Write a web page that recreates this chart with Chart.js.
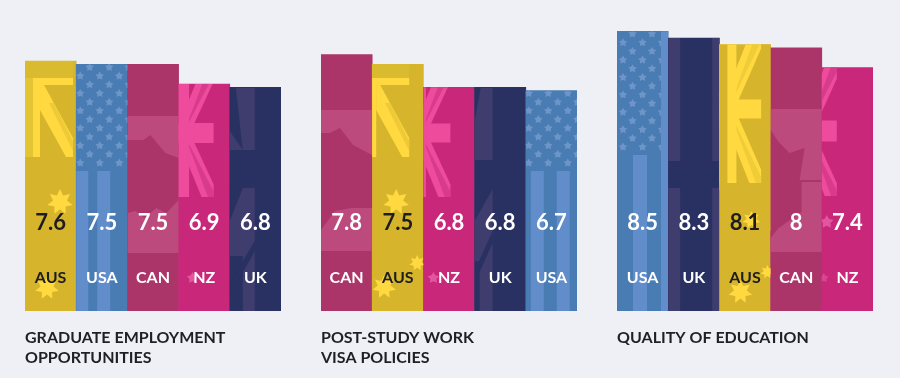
<!DOCTYPE html>
<html>
<head>
<meta charset="utf-8">
<script src="https://cdn.jsdelivr.net/npm/chart.js@4"></script>
<style>
  html, body { margin: 0; background: #eef0f5; }
  canvas { position: absolute; top: 15px; }
</style>
</head>
<body>
<canvas id="c1" width="256" height="363" style="left:25px"></canvas>
<canvas id="c2" width="256" height="363" style="left:321px"></canvas>
<canvas id="c3" width="256" height="363" style="left:617px"></canvas>
<script>
const categories1 = ["AUS", "USA", "CAN", "NZ", "UK"];
const values1 = [7.6, 7.5, 7.5, 6.9, 6.8];
const caption1 = ["GRADUATE EMPLOYMENT", "OPPORTUNITIES"];

const categories2 = ["CAN", "AUS", "NZ", "UK", "USA"];
const values2 = [7.8, 7.5, 6.8, 6.8, 6.7];
const caption2 = ["POST-STUDY WORK", "VISA POLICIES"];

const categories3 = ["USA", "UK", "AUS", "CAN", "NZ"];
const values3 = [8.5, 8.3, 8.1, 8, 7.4];
const caption3 = ["QUALITY OF EDUCATION"];

const baseColors = { AUS: "#d6b52d", USA: "#4a7cb4", CAN: "#ab3569", NZ: "#c9287a", UK: "#283161" };
const textColors = { AUS: "#1d1d1f", USA: "#fff", CAN: "#fff", NZ: "#fff", UK: "#fff" };

// little drawing helpers for the flag textures, local coords: x from bar left, y up from baseline is negative
function box(g, x, y, w, h, color) {
    g.fillStyle = color;
    g.fillRect(x, y, w, h);
}
function poly(g, pts, color) {
    g.fillStyle = color;
    g.beginPath();
    pts.forEach((p, i) => i ? g.lineTo(p[0], p[1]) : g.moveTo(p[0], p[1]));
    g.closePath();
    g.fill();
}
function star(g, cx, cy, r, color, n = 7) {
    g.fillStyle = color;
    g.beginPath();
    for (let i = 0; i < n * 2; i++) {
        const rad = i % 2 ? r * 0.55 : r;
        const a = -Math.PI / 2 + (i * Math.PI) / n;
        g.lineTo(cx + rad * Math.cos(a), cy + rad * Math.sin(a));
    }
    g.closePath();
    g.fill();
}
function jack(g, cx, cy, hw, hh, light, mid, armH, armV) {
    const t = 8;
    [[1, 1], [1, -1], [-1, 1], [-1, -1]].forEach(([sx, sy]) => {
        poly(g, [[cx, cy], [cx + sx * t * 1.4, cy], [cx + sx * hw, cy + sy * (hh - t * 1.6)], [cx + sx * hw, cy + sy * hh], [cx + sx * (hw - t * 1.5), cy + sy * hh], [cx, cy + sy * t]], light);
        poly(g, [[cx + sx * t * 0.8, cy + sy * t * 0.4], [cx + sx * hw, cy + sy * (hh - t * 0.7)], [cx + sx * hw, cy + sy * hh], [cx + sx * (hw - t * 0.7), cy + sy * hh]], mid);
    });
    box(g, cx - hw, cy - armH / 2, hw * 2, armH, light);
    box(g, cx - armV / 2, cy - hh, armV, hh * 2, light);
}
// corner of the aussie flag, dx slides it sideways inside the bar
function ausCorner(g, dx) {
    box(g, -20, -250, 68 + dx, 17, "#dabb2f");
    box(g, dx, -233, 8, 79, "#e3c433");
    box(g, dx + 8, -233, 40, 7, "#ffd93f");
    box(g, dx + 8, -226, 7, 72, "#ffd93f");
    poly(g, [[dx + 15, -226], [dx + 19, -226], [dx + 48, -173], [dx + 48, -154], [dx + 41, -154], [dx + 15, -201]], "#ffd93f");
    poly(g, [[dx + 24, -208], [dx + 29, -208], [dx + 48, -170], [dx + 48, -160]], "#eecb36");
}
function usa(g, bar, cantonBottom, stripes, fullStripe) {
    const light = "#618dcb";
    stripes.forEach(s => box(g, s[0], cantonBottom, s[1] - s[0], -cantonBottom, light));
    for (let r = 0; r < 18; r++) {
        const y = cantonBottom - 8 - r * 8.7;
        for (let c = -1; c < 4; c++) {
            star(g, c * 19.5 + (r % 2 ? 9.5 : 0) + bar, y, 4.4, "#6d95c8", 5);
        }
    }
    if (fullStripe) box(g, fullStripe, -320, 51.2 - fullStripe, 320 + cantonBottom, light);
}

const art = {
    "0-AUS": g => {
        ausCorner(g, 0);
        star(g, 35, -109, 13, "#ffd93f");
        star(g, 22, -23, 12, "#ffd93f");
    },
    "0-USA": g => usa(g, 4, -140, [[0, 12], [21, 34]]),
    "0-CAN": g => {
        box(g, 0, -195, 51.2, 137, "#bc4a7c");
        poly(g, [[0, -171], [16, -171], [23, -176], [38, -158], [51.2, -153], [51.2, -111], [39, -98], [29, -103], [17, -93], [8, -100], [0, -98]], "#ab3569");
    },
    "0-NZ": g => {
        jack(g, 0, -178, 35, 64, "#ee4b9c", "#d83a8c", 20, 21);
        star(g, 14, -33, 6, "#e2559f", 5);
    },
    "0-UK": g => {
        box(g, 0, -223, 25, 62, "#3f3c6e");
        box(g, 0, -123, 25, 68, "#3f3c6e");
        box(g, 13, -55, 12, 55, "#3f3c6e");
        poly(g, [[0, -223], [6, -223], [13, -161], [0, -180]], "#283161");
        poly(g, [[0, -123], [13, -123], [0, -90]], "#283161");
        poly(g, [[0, -28], [25, -70], [25, -60], [0, -15]], "#283161");
    },
    "1-CAN": g => {
        box(g, 0, -201, 51.2, 141, "#bc4a7c");
        poly(g, [[0, -178], [9, -178], [19, -183], [32, -166], [51.2, -156], [51.2, -103], [30, -103], [14, -100], [0, -81]], "#ab3569");
    },
    "1-AUS": g => {
        ausCorner(g, -11);
        star(g, 24, -109, 13, "#ffd93f");
        star(g, 12, -24, 12, "#ffd93f");
        star(g, 45, -48, 8, "#ffd93f");
    },
    "1-NZ": g => {
        jack(g, -8, -178, 35, 64, "#ee4b9c", "#d83a8c", 19, 21);
        star(g, 10, -33, 6, "#e2559f", 5);
    },
    "1-UK": g => {
        box(g, 0, -223, 18, 72, "#3f3c6e");
        box(g, 0, -122, 18, 122, "#3f3c6e");
        poly(g, [[0, -223], [6, -223], [0, -190]], "#283161");
        poly(g, [[0, -122], [18, -122], [0, -90]], "#283161");
        box(g, 0, -50, 5, 50, "#283161");
        poly(g, [[0, -40], [18, -80], [18, -68], [0, -28]], "#283161");
    },
    "1-USA": g => usa(g, 3, -140, [[5, 18], [31, 44]]),
    "2-USA": g => usa(g, 6, -156, [[16, 30], [44, 51.2]], 44),
    "2-UK": g => {
        box(g, 0, -280, 12, 130, "#3f3c6e");
        box(g, 44, -280, 7.2, 130, "#3f3c6e");
        box(g, 0, -123, 12, 123, "#3f3c6e");
        box(g, 44, -123, 7.2, 123, "#3f3c6e");
    },
    "2-AUS": g => {
        jack(g, 4, -202, 38, 74, "#ffd93f", "#f0cd38", 19, 26);
        box(g, 42, -280, 12, 200, "#d6b52d");
        box(g, -20, -280, 28, 160, "#d6b52d");
        star(g, 32, -91, 9, "#ffd93f");
        star(g, 21, -19, 12, "#ffd93f");
        star(g, 48, -39, 7, "#ffd93f");
    },
    "2-CAN": g => {
        box(g, 0, -202, 51.2, 143, "#bc4a7c");
        poly(g, [[0, -181], [8, -169], [19, -158], [34, -163], [29, -131], [51.2, -131], [51.2, -129], [31, -129], [31, -99], [8, -83], [0, -73]], "#ab3569");
    },
    "2-NZ": g => {
        jack(g, -20, -180, 35, 65, "#ee4b9c", "#d83a8c", 21, 0);
        star(g, 5, -89, 7, "#e2559f", 5);
        star(g, 2, -33, 5, "#d9468f", 5);
    }
};

// flag textures go on top of the bars, clipped to each one
const flagPlugin = {
    id: "flags",
    afterDatasetsDraw(chart, args, opts) {
        const g = chart.ctx;
        chart.getDatasetMeta(0).data.forEach((bar, i) => {
            const name = chart.data.labels[i];
            const left = bar.x - bar.width / 2;
            g.save();
            g.beginPath();
            g.rect(left, bar.y, bar.width, bar.base - bar.y);
            g.clip();
            g.translate(left, bar.base);
            art[opts.index + "-" + name](g);
            g.restore();

            g.save();
            g.fillStyle = textColors[name];
            g.font = "700 22px Lato";
            g.textAlign = "center";
            g.textBaseline = "middle";
            g.fillText(String(chart.data.datasets[0].data[i]), bar.x, bar.base - 88);
            g.restore();
        });
    }
};

function makeChart(id, index, labels, values, caption) {
    return new Chart(document.getElementById(id), {
        type: "bar",
        plugins: [flagPlugin],
        data: {
            labels: labels,
            datasets: [{
                data: values,
                backgroundColor: labels.map(l => baseColors[l]),
                borderWidth: 0,
                barPercentage: 1,
                categoryPercentage: 1
            }]
        },
        options: {
            responsive: false,
            animation: false,
            layout: { padding: 0 },
            plugins: {
                legend: { display: false },
                tooltip: { enabled: false },
                flags: { index: index },
                title: {
                    display: true,
                    position: "bottom",
                    align: "start",
                    text: caption,
                    color: "#1f2023",
                    font: { family: "Lato", size: 16, weight: "700", lineHeight: 1.25 },
                    padding: { top: 17, bottom: 10 + (2 - caption.length) * 20 }
                }
            },
            scales: {
                x: {
                    grid: { display: false, drawTicks: false },
                    border: { display: false },
                    afterFit: s => {
                        // labels sit inside the bars, so the axis takes no room
                        s.height = 0;
                        s.paddingLeft = 0;
                        s.paddingRight = 0;
                    },
                    ticks: {
                        z: 1,
                        mirror: true,
                        padding: 24,
                        autoSkip: false,
                        maxRotation: 0,
                        color: c => textColors[labels[c.index]],
                        font: { family: "Lato", size: 16, weight: "700" }
                    }
                },
                y: { display: false, min: 0, max: 9 }
            }
        }
    });
}

makeChart("c1", 0, categories1, values1, caption1);
makeChart("c2", 1, categories2, values2, caption2);
makeChart("c3", 2, categories3, values3, caption3);
</script>
</body>
</html>
